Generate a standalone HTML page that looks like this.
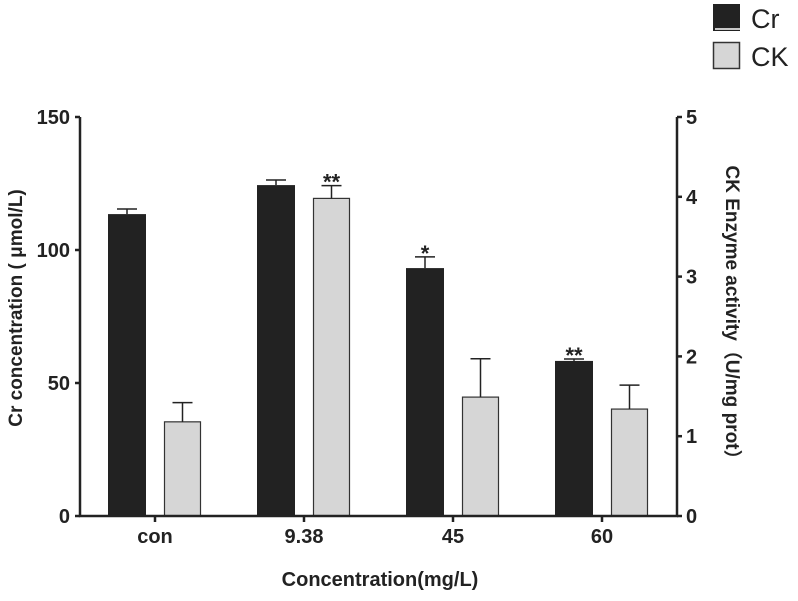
<!DOCTYPE html>
<html><head><meta charset="utf-8"><style>
body{margin:0;background:#fff}
svg text{font-family:"Liberation Sans","Noto Sans CJK SC",sans-serif}
</style></head><body>
<svg width="798" height="596" viewBox="0 0 798 596">
<g id="legend">
  <rect x="713.5" y="4.5" width="26" height="26" fill="#222" stroke="#222"/>
  <line x1="715" y1="29" x2="740" y2="29" stroke="#fff" stroke-width="1.5"/>
  <text x="751" y="28" font-size="27" fill="#222">Cr</text>
  <rect x="713.5" y="42.5" width="26" height="26" fill="#d6d6d6" stroke="#333" stroke-width="1.5"/>
  <text x="751" y="66" font-size="27" fill="#222">CK</text>
</g>
<g id="plot"></g>
<text transform="translate(22,308) rotate(-90)" text-anchor="middle" font-size="19" font-weight="bold" fill="#222">Cr concentration ( μmol/L)</text>
<text transform="translate(726,317) rotate(90)" text-anchor="middle" font-size="19" font-weight="bold" fill="#222">CK Enzyme activity（U/mg prot）</text>
<text x="380" y="586" text-anchor="middle" font-size="20" font-weight="bold" fill="#222">Concentration(mg/L)</text>
</svg>
<script>
const categories = ["con","9.38","45","60"];
const crValues = [113.5,124.4,93.2,58.3];
const crErrors = [1.9,1.9,4.2,0.7];
const ckValues = [1.18,3.98,1.49,1.34];
const ckErrors = [0.24,0.16,0.48,0.30];
const crMarks = ["","","*","**"];
const ckMarks = ["","**","",""];
const leftTicks = [0,50,100,150];
const rightTicks = [0,1,2,3,4,5];

const NS="http://www.w3.org/2000/svg";
const g=document.getElementById('plot');
const y0=516, yTop=117;
const yL=v=>y0-(v/150)*(y0-yTop);
const yR=v=>y0-(v/5)*(y0-yTop);
const xC=i=>155+i*149;
function mk(tag,attrs){const e=document.createElementNS(NS,tag);for(const k in attrs)e.setAttribute(k,attrs[k]);g.appendChild(e);return e;}
categories.forEach((c,i)=>{
  const cx=xC(i);
  let t=yL(crValues[i]);
  let b=mk('rect',{x:cx-47,y:t,width:38,height:y0-t,fill:'#222'});
  
  
  let et=yL(crValues[i]+crErrors[i]);
  mk('line',{x1:cx-28,y1:t,x2:cx-28,y2:et,stroke:'#222','stroke-width':1.5});
  mk('line',{x1:cx-38,y1:et,x2:cx-18,y2:et,stroke:'#222','stroke-width':1.5});
  if(crMarks[i]){let s=mk('text',{x:cx-28,y:et+4,'text-anchor':'middle','font-size':22,'font-weight':'bold',fill:'#222'});s.textContent=crMarks[i];
    
    }
  t=yR(ckValues[i]);
  b=mk('rect',{x:cx+9.5,y:t,width:36,height:y0-t,fill:'#d6d6d6',stroke:'#333','stroke-width':1.2});
  
  
  et=yR(ckValues[i]+ckErrors[i]);
  mk('line',{x1:cx+27.5,y1:t,x2:cx+27.5,y2:et,stroke:'#222','stroke-width':1.5});
  mk('line',{x1:cx+17.5,y1:et,x2:cx+37.5,y2:et,stroke:'#222','stroke-width':1.5});
  if(ckMarks[i]){let s=mk('text',{x:cx+27.5,y:et+4,'text-anchor':'middle','font-size':22,'font-weight':'bold',fill:'#222'});s.textContent=ckMarks[i];
    
    }
  mk('line',{x1:cx,y1:y0,x2:cx,y2:y0+6,stroke:'#222','stroke-width':2.5});
  const l=mk('text',{x:cx,y:y0+27,'text-anchor':'middle','font-size':20,'font-weight':'bold',fill:'#222'});
  l.textContent=c;
  
  
});
const ax=mk('path',{d:`M80,${yTop} V${y0} H677 V${yTop}`,fill:'none',stroke:'#222','stroke-width':2.5});


leftTicks.forEach(v=>{
  const y=yL(v);
  mk('line',{x1:75,y1:y,x2:80,y2:y,stroke:'#222','stroke-width':2.5});
  const l=mk('text',{x:70,y:y+7,'text-anchor':'end','font-size':20,'font-weight':'bold',fill:'#222'});
  l.textContent=v;
  
  
});
rightTicks.forEach(v=>{
  const y=yR(v);
  mk('line',{x1:677,y1:y,x2:682,y2:y,stroke:'#222','stroke-width':2.5});
  const l=mk('text',{x:686,y:y+7,'text-anchor':'start','font-size':20,'font-weight':'bold',fill:'#222'});
  l.textContent=v;
  
  
});
</script>
</body></html>
